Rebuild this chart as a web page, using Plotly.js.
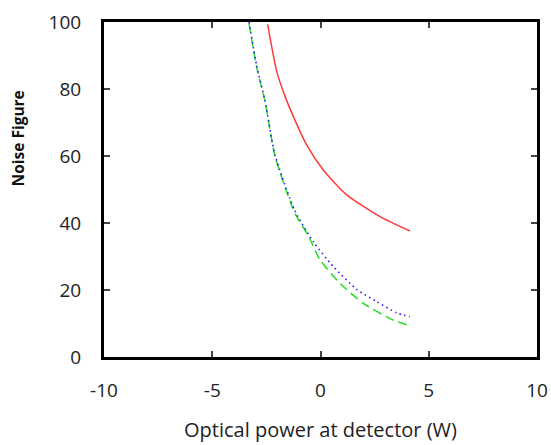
<!DOCTYPE html>
<html>
<head>
<meta charset="utf-8">
<script src="https://cdn.plot.ly/plotly-3.0.1.min.js"></script>
<style>html,body{margin:0;padding:0;background:#fff;}#chart{width:551px;height:445px;}</style>
</head>
<body>
<div id="chart"></div>
<script>
// Series data
var redX   = [-2.44, -2.02, -1.60, -1.18, -0.64, 0.13, 1.21, 2.75, 4.13];
var redY   = [99.3, 85.2, 77.2, 70.7, 63.3, 55.8, 48.4, 41.9, 37.6];
var greenX = [-3.30, -2.95, -2.56, -2.10, -1.18, -0.58, -0.02, 0.90, 1.98, 3.36, 4.13];
var greenY = [99.5, 86.5, 76.2, 59.8, 42.9, 36.4, 29.0, 22.0, 16.0, 11.0, 9.3];
var blueX  = [-3.30, -2.95, -2.56, -2.10, -1.18, -0.33, 0.59, 1.67, 2.60, 3.52, 4.13];
var blueY  = [100, 87.0, 76.4, 60.3, 43.6, 34.4, 27.0, 20.2, 16.5, 13.2, 12.0];
var xTicks = [-10, -5, 0, 5, 10];
var yTicks = [0, 20, 40, 60, 80, 100];

var traces = [
  {x: redX, y: redY, type: 'scatter', mode: 'lines', line: {color: '#ff3a3a', width: 1.5, shape: 'spline', smoothing: 0.6}, name: 'red'},
  {x: greenX, y: greenY, type: 'scatter', mode: 'lines', line: {color: '#22dd22', width: 1.5, dash: '9px,5px', shape: 'spline', smoothing: 0.6}, name: 'green'},
  {x: blueX, y: blueY, type: 'scatter', mode: 'lines', line: {color: '#2020ff', width: 1.6, dash: '1.5px,3.5px', shape: 'spline', smoothing: 0.6}, name: 'blue'}
];

var fontFam = '"Open Sans", "Noto Sans", sans-serif';
var layout = {
  width: 551, height: 445,
  margin: {l: 104, r: 14, t: 22, b: 88},
  paper_bgcolor: '#fff', plot_bgcolor: '#fff',
  showlegend: false,
  font: {family: fontFam, size: 19, color: '#222'},
  xaxis: {
    range: [-10, 10], tickvals: xTicks, ticktext: xTicks.map(String),
    showgrid: false, zeroline: false,
    showline: true, linewidth: 3, linecolor: '#000', mirror: 'ticks',
    ticks: 'inside', ticklen: 6, tickwidth: 2, tickcolor: '#444',
    ticklabelstandoff: 14,
    title: {text: 'Optical power at detector (W)', font: {family: fontFam, size: 20, color: '#222'}, standoff: 22}
  },
  yaxis: {
    range: [0, 100], tickvals: yTicks, ticktext: yTicks.map(String),
    showgrid: false, zeroline: false,
    showline: true, linewidth: 3, linecolor: '#000', mirror: 'ticks',
    ticks: 'inside', ticklen: 6, tickwidth: 2, tickcolor: '#444',
    ticklabelstandoff: 16
  },
  annotations: [{
    text: '<b>Noise Figure</b>', xref: 'paper', yref: 'paper',
    x: -0.199, y: 0.652, xanchor: 'center', yanchor: 'middle', textangle: -90,
    showarrow: false, font: {family: fontFam, size: 15.5, color: '#111'}
  }]
};
Plotly.newPlot('chart', traces, layout, {staticPlot: true, displayModeBar: false});
</script>
</body>
</html>
